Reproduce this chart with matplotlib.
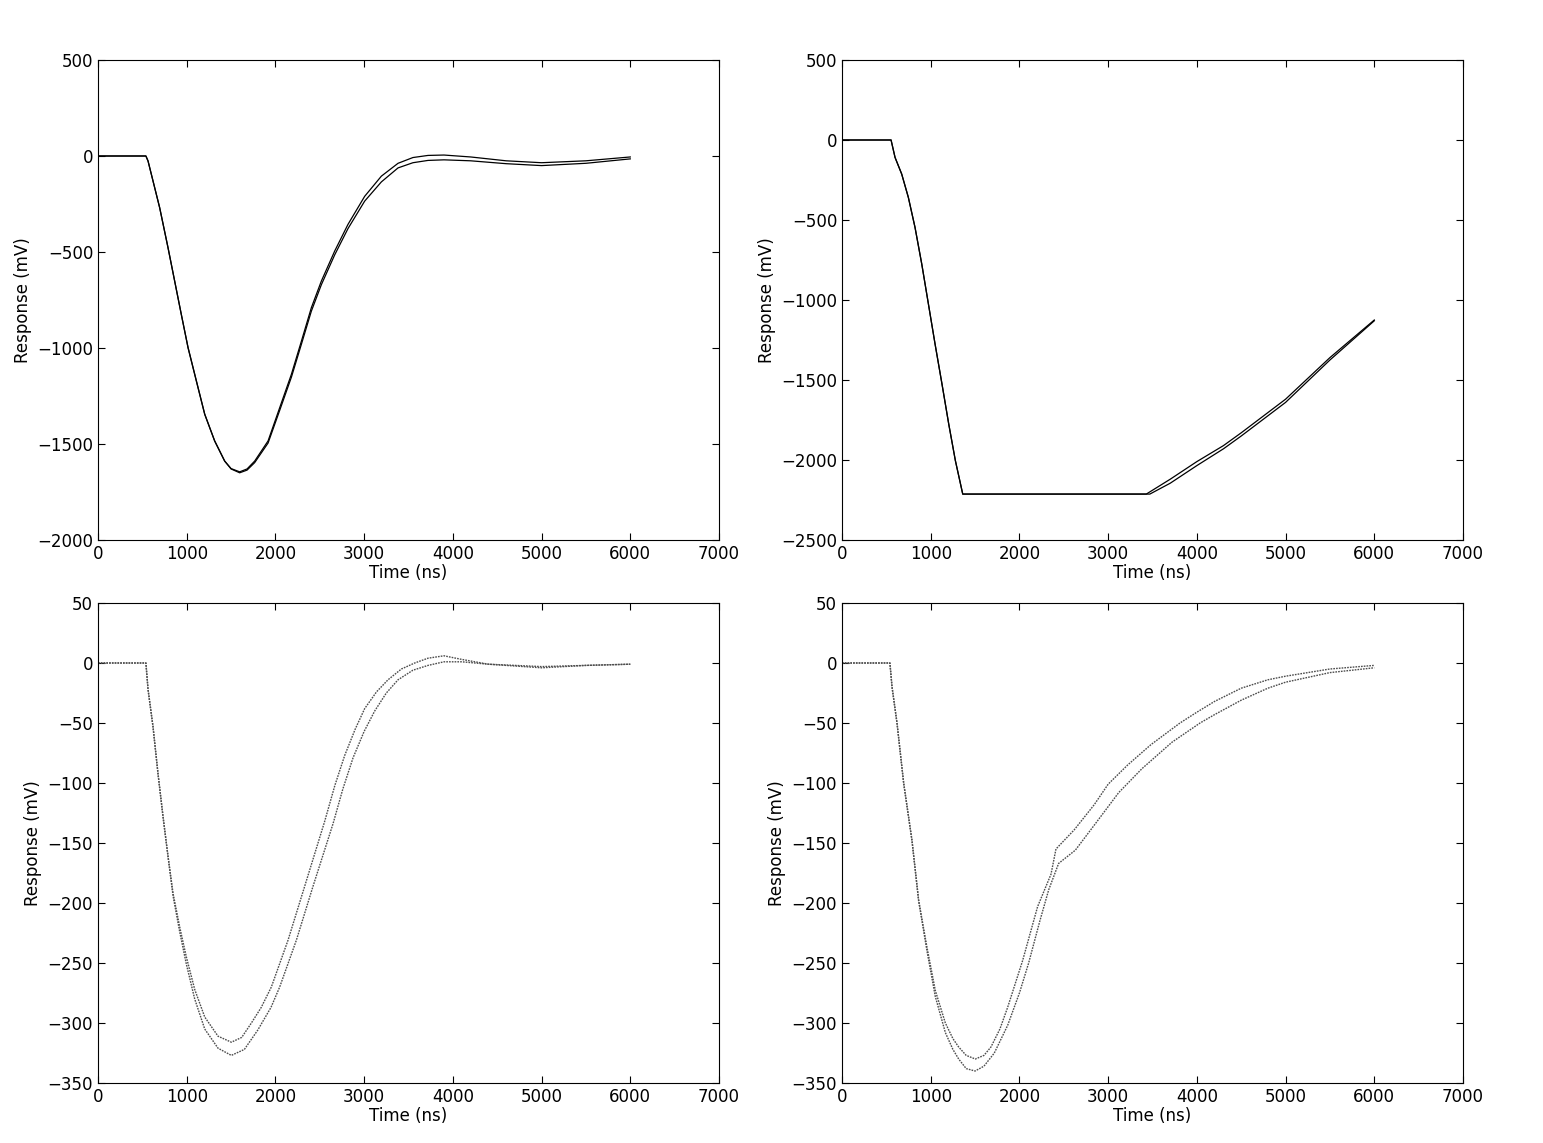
import matplotlib
matplotlib.use("Agg")
import matplotlib.pyplot as plt

# top left: two traces, ns / mV
tl_t = [0, 540, 564, 695, 789, 864, 939, 1015, 1109, 1203, 1315, 1428, 1500, 1597, 1680,
        1766, 1917, 2048, 2180, 2293, 2405, 2518, 2668, 2818, 3006, 3194, 3382, 3550,
        3720, 3900, 4200, 4600, 5000, 5500, 6000]
tl_a = [0, 0, -26, -269, -477, -651, -825, -998, -1172, -1345, -1484, -1589, -1628, -1645,
        -1630, -1589, -1484, -1311, -1137, -964, -790, -651, -495, -356, -210, -105, -38,
        -8, 3, 5, -5, -25, -35, -25, -5]
tl_b = [0, 0, -26, -269, -477, -651, -825, -998, -1172, -1345, -1484, -1589, -1630, -1650,
        -1636, -1597, -1495, -1325, -1152, -980, -808, -670, -515, -378, -235, -135, -62,
        -35, -23, -20, -25, -40, -50, -38, -15]

# top right: saturated trace
tr_t1 = [0, 540, 553, 598, 673, 748, 823, 899, 974, 1049, 1127, 1203, 1278, 1361,
         3430, 3700, 4000, 4300, 4500, 5000, 5500, 6000]
tr_a = [0, 0, 0, -109, -213, -359, -546, -775, -1025, -1275, -1525, -1775, -2004, -2213,
        -2213, -2120, -2010, -1910, -1830, -1620, -1360, -1125]
tr_t2 = [0, 540, 553, 598, 673, 748, 823, 899, 974, 1049, 1127, 1203, 1278, 1361,
         3470, 3700, 4000, 4300, 4500, 5000, 5500, 6000]
tr_b = [0, 0, 0, -109, -213, -359, -546, -775, -1025, -1275, -1525, -1775, -2004, -2213,
        -2213, -2145, -2035, -1930, -1850, -1640, -1375, -1130]

# bottom left
bl_t1 = [0, 540, 564, 620, 676, 733, 789, 846, 921, 996, 1090, 1203, 1353, 1503, 1620,
         1729, 1840, 1954, 2142, 2330, 2555, 2670, 2781, 2900, 3006, 3140, 3269, 3420,
         3570, 3720, 3900, 4100, 4400, 5000, 5500, 6000]
bl_a = [0, 0, -22, -53, -92, -128, -161, -192, -220, -245, -272, -295, -311, -316, -312,
        -300, -287, -270, -231, -186, -132, -102, -77, -55, -38, -24, -14, -5,
        0, 4, 6, 3, -1, -3, -2, -1]
bl_t2 = [0, 540, 564, 620, 676, 733, 789, 846, 921, 996, 1090, 1203, 1353, 1503, 1650,
         1800, 1950, 2048, 2236, 2424, 2649, 2760, 2875, 3000, 3119, 3250, 3382, 3550,
         3720, 3900, 4100, 4400, 5000, 5500, 6000]
bl_b = [0, 0, -22, -53, -92, -128, -161, -194, -224, -251, -280, -305, -321, -327, -322,
        -306, -287, -270, -231, -186, -134, -105, -79, -57, -40, -25, -14, -6,
        -2, 1, 1, -1, -4, -2, -1]

# bottom right
br_t1 = [0, 540, 564, 620, 695, 789, 864, 958, 1052, 1165, 1250, 1315, 1400, 1503, 1600,
         1679, 1780, 1867, 2036, 2205, 2356, 2412, 2618, 2844, 3000, 3220, 3483, 3810,
         4000, 4200, 4500, 4800, 5000, 5500, 6000]
br_a = [0, 0, -20, -50, -100, -148, -198, -237, -273, -300, -313, -320, -327, -330, -327,
        -320, -305, -287, -248, -203, -176, -155, -139, -118, -101, -85, -68, -50,
        -41, -32, -21, -14, -11, -5, -2]
br_t2 = [0, 540, 564, 620, 695, 789, 864, 958, 1052, 1165, 1250, 1315, 1400, 1500, 1600,
         1717, 1867, 2000, 2104, 2230, 2330, 2442, 2630, 2855, 3119, 3382, 3720, 4036,
         4200, 4500, 4800, 5000, 5500, 6000]
br_b = [0, 0, -20, -50, -100, -148, -198, -240, -278, -308, -322, -330, -338, -340, -336,
        -325, -302, -275, -250, -215, -189, -167, -156, -134, -108, -88, -66, -50,
        -43, -31, -21, -16, -8, -4]

plt.rcParams['font.size'] = 12
plt.rcParams['xtick.direction'] = 'in'
plt.rcParams['ytick.direction'] = 'in'
plt.rcParams['xtick.top'] = True
plt.rcParams['ytick.right'] = True
plt.rcParams['xtick.major.size'] = 5
plt.rcParams['ytick.major.size'] = 5

fig = plt.figure(figsize=(15.43, 11.43), dpi=100)
W, H = 1543.0, 1143.0
boxes = [(98, 60), (842, 60), (98, 603), (842, 603)]
axs = [fig.add_axes([x / W, 1 - (y + 480) / H, 621 / W, 480 / H]) for x, y in boxes]

panels = [
    (axs[0], [(tl_t, tl_a), (tl_t, tl_b)], (-2000, 500), range(-2000, 501, 500), True),
    (axs[1], [(tr_t1, tr_a), (tr_t2, tr_b)], (-2500, 500), range(-2500, 501, 500), True),
    (axs[2], [(bl_t1, bl_a), (bl_t2, bl_b)], (-350, 50), range(-350, 51, 50), False),
    (axs[3], [(br_t1, br_a), (br_t2, br_b)], (-350, 50), range(-350, 51, 50), False),
]

for ax, traces, ylim, yt, top in panels:
    for t, v in traces:
        if top:
            ax.plot(t, v, color='black', lw=0.9)
        else:
            ax.plot(t, v, color='0.3', lw=1.0, ls=(0, (1.2, 0.8)))
    ax.set_xlim(0, 7000)
    ax.set_xticks(range(0, 7001, 1000))
    ax.set_ylim(*ylim)
    ax.set_yticks(list(yt))
    ax.set_xlabel("Time (ns)", labelpad=1)
    ax.set_ylabel("Response (mV)")

fig.savefig("out.png", dpi=100, facecolor='white')
